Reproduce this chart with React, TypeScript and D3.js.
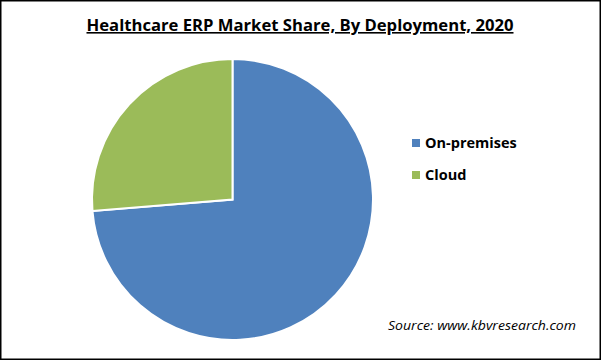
import React from "react";
import * as d3 from "d3";

const categories = ["On-premises", "Cloud"];
const shares = [73.7, 26.3];
const colors = ["#4F81BD", "#9BBB59"];
const title = "Healthcare ERP Market Share, By Deployment, 2020";
const source = "Source: www.kbvresearch.com";

export default function App() {
  const W = 601, H = 360;
  const cx = 232.5, cy = 199.5, r = 140.5;
  const pie = d3.pie<number>().sort(null).value((d) => d);
  const arcs = pie(shares);
  const arc = d3.arc<d3.PieArcDatum<number>>().innerRadius(0).outerRadius(r);
  const legendY = d3.scalePoint<string>().domain(categories).range([143, 175]);
  const font = "'Open Sans', sans-serif";
  return (
    <svg width={W} height={H} style={{ position: "absolute", left: 0, top: 0, background: "#fff" }}>
      <rect x={0.75} y={0.75} width={W - 1.5} height={H - 1.5} fill="#fff" stroke="#000" strokeWidth={1.5} />
      <text x={300} y={31} textAnchor="middle" fontFamily={font} fontWeight={700} fontSize={16} textLength={427} lengthAdjust="spacingAndGlyphs" textDecoration="underline" fill="#000">
        {title}
      </text>
      <g transform={`translate(${cx},${cy})`}>
        {arcs.map((a, i) => (
          <path key={i} d={arc(a) || ""} fill={colors[i]} stroke="#fff" strokeWidth={2} strokeLinejoin="miter" />
        ))}
      </g>
      {categories.map((c, i) => (
        <g key={c} transform={`translate(412,${legendY(c)})`}>
          <rect x={0} y={-4} width={8} height={8} fill={colors[i]} />
          <text x={13} y={5} fontFamily={font} fontWeight={700} fontSize={14.5} fill="#000">{c}</text>
        </g>
      ))}
      <text x={388} y={330} fontFamily={font} fontStyle="italic" fontSize={13} textLength={188} lengthAdjust="spacingAndGlyphs" fill="#000">
        {source}
      </text>
    </svg>
  );
}
